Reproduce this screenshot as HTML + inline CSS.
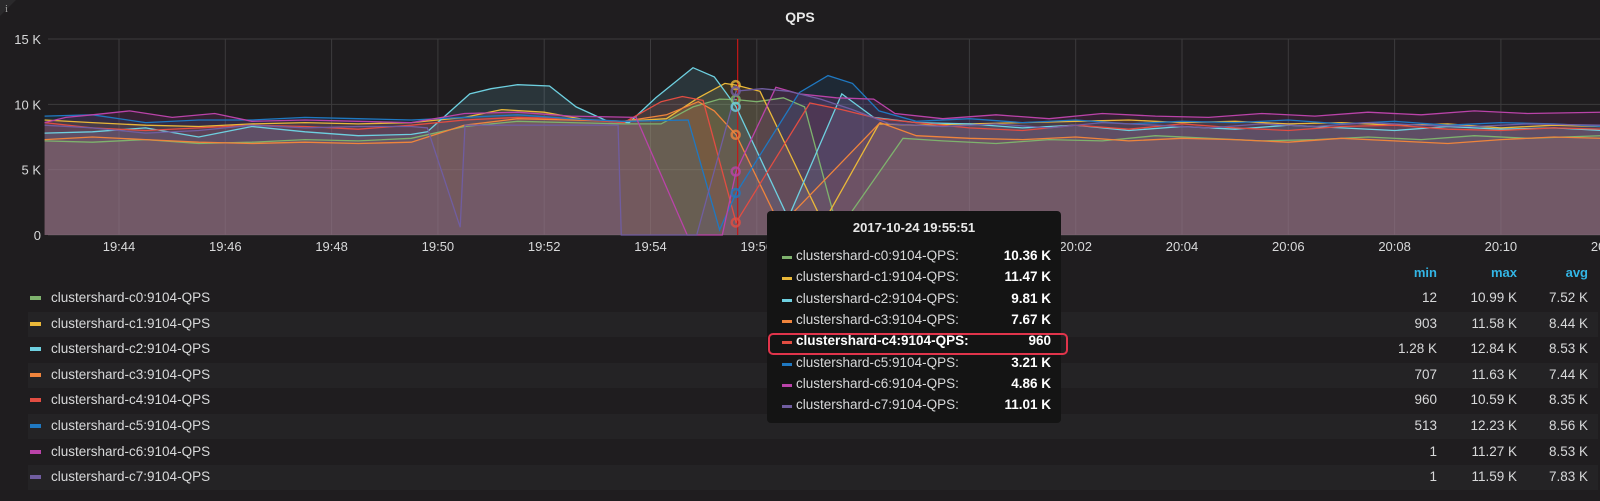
<!DOCTYPE html>
<html style="overflow:hidden;width:1600px;height:501px"><head><meta charset="utf-8"><style>
html,body{margin:0;padding:0}
body{background:#1f1d1f;width:1600px;height:501px;overflow:hidden;font-family:"Liberation Sans",sans-serif;color:#d8d9da}
#wrap{position:relative;width:1600px;height:501px;overflow:hidden}
.t{position:absolute;white-space:nowrap}
</style></head><body>
<div id="wrap">
<svg id="chart" width="1600" height="501" style="position:absolute;left:0;top:0;display:block">
<polygon points="0,0 16,0 0,16" fill="#2a292b"/>
<text x="5" y="12" font-size="11" fill="#999" font-family="Liberation Serif">i</text>
<text x="800" y="22" text-anchor="middle" font-size="14" font-weight="bold" fill="#e8e8e8">QPS</text>
<g id="grid"></g><g id="series"></g><g id="overlay"></g><g id="axes"></g>
</svg>
<div id="legend"></div>
<div id="tooltip" style="position:absolute;left:767px;top:211px;width:294px;height:212px;background:#141414;border-radius:4px;font-size:13px;z-index:10">
<div class="t" style="left:0;width:294px;text-align:center;top:9px;font-weight:bold;color:#e8e8e8">2017-10-24 19:55:51</div>
</div>
</div>
<script>
const NS="http://www.w3.org/2000/svg";
const names=["clustershard-c0:9104-QPS","clustershard-c1:9104-QPS","clustershard-c2:9104-QPS","clustershard-c3:9104-QPS","clustershard-c4:9104-QPS","clustershard-c5:9104-QPS","clustershard-c6:9104-QPS","clustershard-c7:9104-QPS"];
const colors=["#7eb26d","#eab839","#6ed0e0","#ef843c","#e24d42","#1f78c1","#ba43a9","#705da0"];
const mins=["12","903","1.28 K","707","960","513","1","1"];
const maxs=["10.99 K","11.58 K","12.84 K","11.63 K","10.59 K","12.23 K","11.27 K","11.59 K"];
const avgs=["7.52 K","8.44 K","8.53 K","7.44 K","8.35 K","8.56 K","8.53 K","7.83 K"];
const tipVals=["10.36 K","11.47 K","9.81 K","7.67 K","960","3.21 K","4.86 K","11.01 K"];
const tipNums=[10.36,11.47,9.81,7.67,0.96,3.21,4.86,11.01];
const yTicks=[0,5,10,15];
const yTickLabels=["0","5 K","10 K","15 K"];
const xTicks=[4,6,8,10,12,14,16,18,20,22,24,26,28,30,32];
const xTickLabels=["19:44","19:46","19:48","19:50","19:52","19:54","19:56","19:58","20:00","20:02","20:04","20:06","20:08","20:10","20:12"];
const hoverT=15.64;
// times: minutes after 19:40 ; values in K
const c0T=[2.6,3.5,4.5,5.5,6.5,7.5,8.5,9.5,10.5,11.5,12.5,13.5,14.2,14.8,15.3,15.61,16,16.5,16.9,17.53,18.75,19.5,20.5,21.5,22.5,23.5,24.5,25.5,26.5,27.5,28.5,29.5,30.5,31.9];
const c0V=[7.2,7.1,7.3,7.0,7.1,7.3,7.2,7.4,8.3,8.7,8.6,8.5,8.5,9.8,10.4,10.36,10.2,10.5,9.8,0.3,7.4,7.2,7.0,7.3,7.2,7.6,7.4,7.2,7.3,7.5,7.3,7.6,7.4,7.6];
const c1T=[2.6,3.5,4.5,5.5,6.5,7.5,8.5,9.5,10.5,11.2,12,12.8,13.5,14.3,14.9,15.4,15.61,16.06,17.25,18.3,19,20,21,22,23,24,25,26,27,28,29,30,31,31.9];
const c1V=[8.8,8.6,8.4,8.3,8.5,8.6,8.5,8.6,9.0,9.6,9.4,8.8,8.7,8.9,10.5,11.6,11.47,11.0,0.9,8.5,8.4,8.5,8.6,8.7,8.8,8.6,8.7,8.5,8.6,8.4,8.5,8.2,8.4,8.3];
const c2T=[2.6,3.5,4.5,5.5,6.5,7.5,8.5,9.5,9.8,10.6,11,11.5,12.1,12.6,13.2,13.6,14.1,14.8,15.2,15.4,15.61,16.59,17.6,18.2,19,20,21,22,23,24,25,26,27,28,29,30,31,31.9];
const c2V=[7.8,7.9,8.2,7.5,8.3,7.9,7.6,7.7,7.9,10.8,11.2,11.5,11.4,9.8,8.7,8.6,10.5,12.8,12.1,11.0,9.81,1.3,10.8,9.0,8.6,8.5,8.2,8.4,8.0,8.3,8.1,8.4,8.2,8.0,8.3,8.1,8.2,8.0];
const c3T=[2.6,3.5,4.5,5.5,6.5,7.5,8.5,9.5,10.5,11.5,12.5,13.5,14.3,14.9,15.2,15.61,16.44,18.32,19,20,21,22,23,24,25,26,27,28,29,30,31,31.9];
const c3V=[7.3,7.5,7.3,7.1,7.0,7.1,7.0,7.1,8.4,8.9,8.8,8.7,9.2,10.2,9.5,7.67,0.7,8.6,7.6,7.4,7.3,7.5,7.2,7.4,7.3,7.1,7.4,7.2,7.0,7.3,7.5,7.4];
const c4T=[2.6,3.5,4.5,5.5,6.5,7.5,8.5,9.5,10.5,11.5,12.5,13.5,14.2,14.6,14.99,15.61,17.0,17.6,18.3,19,20,21,22,23,24,25,26,27,28,29,30,31,31.9];
const c4V=[8.6,8.2,8.0,8.2,8.4,8.3,8.1,8.4,8.8,9.0,8.9,8.6,10.2,10.6,10.3,0.96,10.1,9.6,8.9,8.6,8.2,8.0,8.4,8.1,8.5,8.2,8.0,8.3,8.4,8.1,8.0,8.2,8.1];
const c5T=[2.6,3.5,4.5,5.5,6.5,7.5,8.5,9.5,10.5,11.5,12.5,13.5,14.71,15.3,15.61,16.8,17.34,17.8,18.3,19,20,21,22,23,24,25,26,27,28,29,30,31,31.9];
const c5V=[9.1,9.2,8.6,8.8,8.8,9.0,8.9,8.8,9.0,9.2,8.9,8.7,8.8,0.4,3.21,10.9,12.2,11.6,9.5,8.7,8.9,8.6,8.8,8.5,8.7,8.6,8.8,8.5,8.7,8.4,8.6,8.5,8.3];
const c6T=[2.6,3,3.5,4.2,5,5.8,6.5,7.5,8.5,9.5,10.5,11.5,12.5,13.73,14.69,15.35,15.61,16.36,16.8,17.5,18.2,18.6,19.5,20.5,21.5,22.5,23.5,24.5,25.5,26.5,27.5,28.5,29.5,30.5,31.9];
const c6V=[8.6,9.0,9.2,9.5,9.0,9.3,8.7,8.8,8.7,8.6,9.3,9.4,9.1,9.0,0,0,4.86,11.3,10.8,10.5,10.4,9.3,8.9,9.2,8.9,9.3,9.1,9.0,9.3,9.1,9.4,9.2,9.5,9.3,9.4];
const c7T=[2.6,3.5,4.5,5.5,6.5,7.5,8.5,9.5,9.8,10.42,10.51,13.39,13.45,14.87,15.61,16.1,16.6,17.2,17.8,18.5,19.5,20.5,21.5,22.5,23.5,24.5,25.5,26.5,27.5,28.5,29.5,30.5,31.9];
const c7V=[8.4,8.2,7.8,8.0,8.4,8.2,8.3,8.3,8.2,0.6,8.4,8.4,0,0,11.01,11.2,11.0,10.4,9.6,8.5,8.3,8.5,8.2,8.6,8.4,8.2,8.5,8.3,8.6,8.4,8.3,8.5,8.4];
const seriesT=[c0T,c1T,c2T,c3T,c4T,c5T,c6T,c7T];
const seriesV=[c0V,c1V,c2V,c3V,c4V,c5V,c6V,c7V];

const X0=48,X1=1600,Y0=235,Y1=39;
function xs(t){return 119+(t-4)*53.15;}
function ys(v){return Y0-(v/15)*(Y0-Y1);}
function mk(tag,attrs,parent){const e=document.createElementNS(NS,tag);for(const k in attrs)e.setAttribute(k,attrs[k]);parent.appendChild(e);return e;}

const grid=document.getElementById('grid'),axes=document.getElementById('axes');
yTicks.forEach((v,i)=>{
  const l=mk('line',{x1:X0,x2:X1,y1:ys(v),y2:ys(v),stroke:'#3c3b3d','stroke-width':1},grid);
  
  
  const t=mk('text',{x:41,y:ys(v)+5,'text-anchor':'end','font-size':13,fill:'#d8d9da'},axes);
  t.textContent=yTickLabels[i];
  
  
});
xTicks.forEach((v,i)=>{
  const l=mk('line',{x1:xs(v),x2:xs(v),y1:Y1,y2:Y0,stroke:'#3c3b3d','stroke-width':1},grid);
  
  
  const t=mk('text',{x:xs(v),y:251,'text-anchor':'middle','font-size':13,fill:'#d8d9da'},axes);
  t.textContent=xTickLabels[i];
  
  
});
const sg=document.getElementById('series');
seriesT.forEach((T,s)=>{
  const V=seriesV[s];
  let pts=T.map((t,i)=>xs(t).toFixed(1)+','+ys(V[i]).toFixed(1)).join(' ');
  const area=mk('polygon',{points:xs(T[0])+','+Y0+' '+pts+' '+xs(T[T.length-1])+','+Y0,fill:colors[s],'fill-opacity':0.14},sg);
  
  
});
seriesT.forEach((T,s)=>{
  const V=seriesV[s];
  let pts=T.map((t,i)=>xs(t).toFixed(1)+','+ys(V[i]).toFixed(1)).join(' ');
  const line=mk('polyline',{points:pts,fill:'none',stroke:colors[s],'stroke-width':1.3},sg);
  
  
});
const ov=document.getElementById('overlay');
const cross=mk('line',{x1:xs(hoverT),x2:xs(hoverT),y1:Y1,y2:Y0,stroke:'#c41818','stroke-width':1.2},ov);


tipNums.forEach((v,s)=>{
  const c=mk('circle',{cx:xs(hoverT)-2,cy:ys(v),r:4,fill:'none',stroke:colors[s],'stroke-width':2.5,'stroke-opacity':0.8},ov);
  
  
});

const wrap=document.getElementById('wrap');
function div(parent,style,text){const d=document.createElement('div');d.className='t';d.style.cssText=style;if(text!=null)d.textContent=text;parent.appendChild(d);return d;}
const hdr=[['min',1437],['max',1517],['avg',1588]];
hdr.forEach(h=>{
  const d=div(wrap,'left:'+(h[1]-60)+'px;width:60px;text-align:right;top:265px;font-size:13px;font-weight:bold;color:#33b5e5',h[0]);
  
  
});
names.forEach((n,i)=>{
  const top=286+i*25.6;
  const row=div(wrap,'left:28px;top:'+top+'px;width:1570px;height:25px;'+(i%2?'background:#242325;':''));
  
  
  const sw=div(row,'left:2px;top:10px;width:11px;height:4px;background:'+colors[i]);
  
  
  const tx=div(row,'left:23px;top:4px;font-size:13.5px;color:#d8d9da',n);
  
  
  [[mins[i],1437],[maxs[i],1517],[avgs[i],1588]].forEach((c,k)=>{
    const d=div(row,'left:'+(c[1]-28-80)+'px;width:80px;text-align:right;top:4px;font-size:13.5px;color:#d8d9da',c[0]);
    
    
  });
});
const tip=document.getElementById('tooltip');
names.forEach((n,i)=>{
  const top=37+i*21.3;
  const hl=i===4;
  const sw=div(tip,'left:15px;top:'+(top+8)+'px;width:10px;height:3px;background:'+colors[i]);
  
  
  const nm=div(tip,'left:29px;top:'+top+'px;font-size:13.5px;'+(hl?'font-weight:bold;color:#fff':'color:#d8d9da'),n+':');
  
  
  const v=div(tip,'left:184px;width:100px;text-align:right;top:'+top+'px;font-size:13.5px;font-weight:bold;color:#fff',tipVals[i]);
  
  
});
const box=div(tip,'left:1px;top:122px;width:296px;height:18px;border:2px solid #e0344b;border-radius:5px');


</script>
</body></html>
